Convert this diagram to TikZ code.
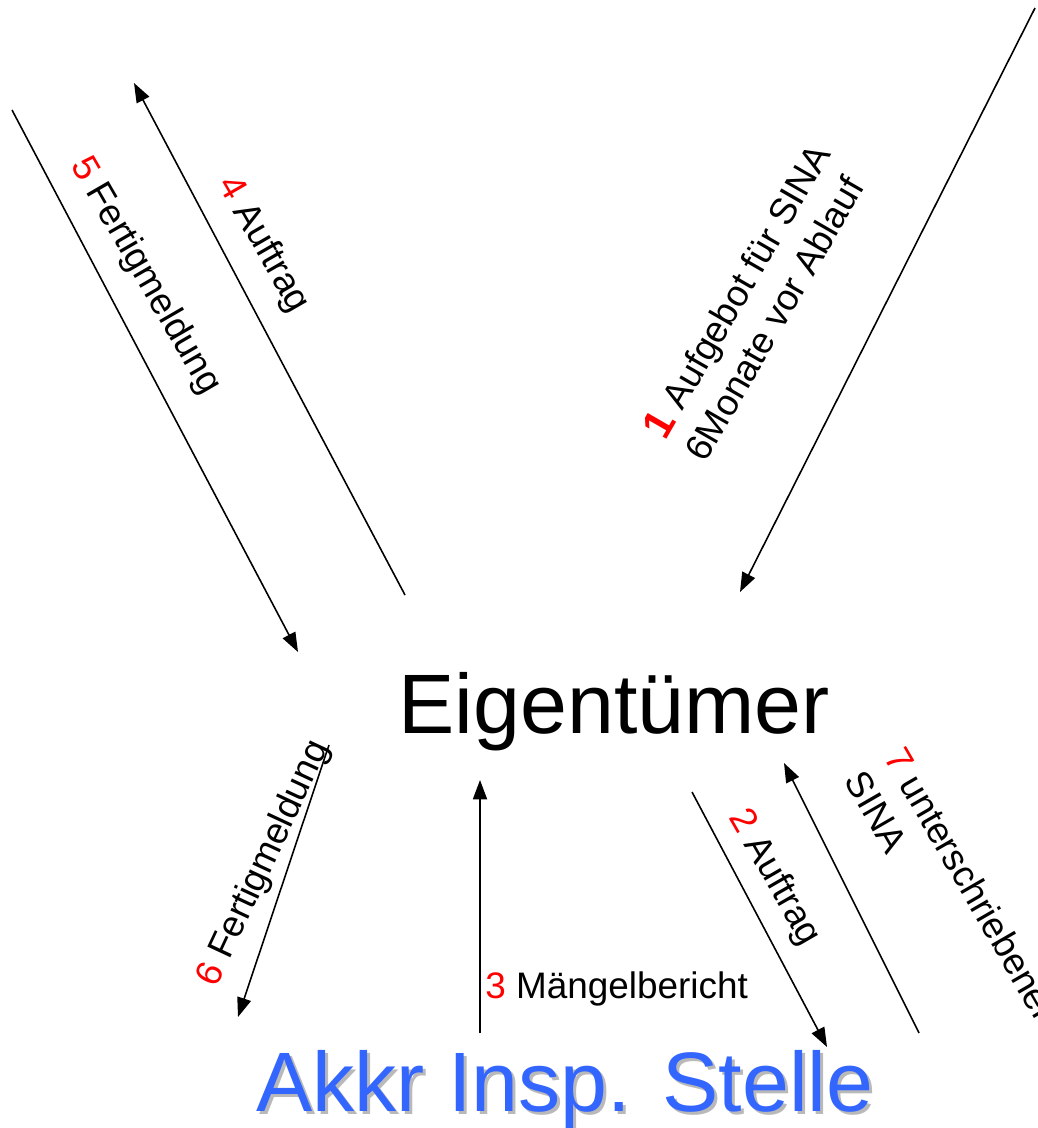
\documentclass[tikz,border=0pt]{standalone}
\usepackage{fontspec}
\setmainfont{Liberation Sans}
\usetikzlibrary{arrows.meta}
\definecolor{akkrblue}{RGB}{51,102,255}
\definecolor{shadowgray}{RGB}{185,185,185}
\begin{document}
\begin{tikzpicture}[x=0.02cm, y=-0.02cm, >={Triangle[length=11pt,width=8pt]},
    flow/.style={->, line width=0.9pt},
    lbl/.style={font=\fontsize{21}{26}\selectfont, inner sep=0pt},
    big/.style={font=\fontsize{48}{56}\selectfont, inner sep=0pt, anchor=base west}]
  \useasboundingbox (0, 0) rectangle (1037, 1128);

  \node[big] (eig) at (398, 733) {Eigentümer};
  \node[big, text=shadowgray] (akkrshadow) at (259, 1114) {Akkr Insp. Stelle};
  \node[big, text=akkrblue] (akkr) at (256, 1111) {Akkr Insp. Stelle};

  \coordinate (a1s) at (1035, 8);   \coordinate (a1e) at (740, 592);
  \coordinate (a2s) at (692, 792);  \coordinate (a2e) at (827, 1047);
  \coordinate (a3s) at (480, 1033); \coordinate (a3e) at (480, 780);
  \coordinate (a4s) at (405, 595);  \coordinate (a4e) at (134, 83);
  \coordinate (a5s) at (12, 110);   \coordinate (a5e) at (298, 652);
  \coordinate (a6s) at (329, 745);  \coordinate (a6e) at (238, 1017);
  \coordinate (a7s) at (919, 1033); \coordinate (a7e) at (784, 763);

  \foreach \i in {1,...,7}
    \draw[flow] (a\i s) -- (a\i e);

  \node[lbl, rotate=60, align=left] (l1) at (756, 302)
    {\textcolor{red}{\textbf{\fontsize{24}{26}\selectfont 1}} Aufgebot für SINA\\6Monate vor Ablauf};
  \node[lbl, rotate=-60] (l2) at (774, 878) {\textcolor{red}{2} Auftrag};
  \node[lbl, anchor=base west] (l3) at (485, 998) {\textcolor{red}{3} Mängelbericht};
  \node[lbl, rotate=-60] (l4) at (263, 245) {\textcolor{red}{4} Auftrag};
  \node[lbl, rotate=-60] (l5) at (145, 276) {\textcolor{red}{5} Fertigmeldung};
  \node[lbl, rotate=65] (l6) at (264, 864) {\textcolor{red}{6} Fertigmeldung};
  \node[lbl, rotate=-60, align=left] (l7) at (952, 896)
    {\textcolor{red}{7} unterschriebener\\SINA};
\end{tikzpicture}
\end{document}
